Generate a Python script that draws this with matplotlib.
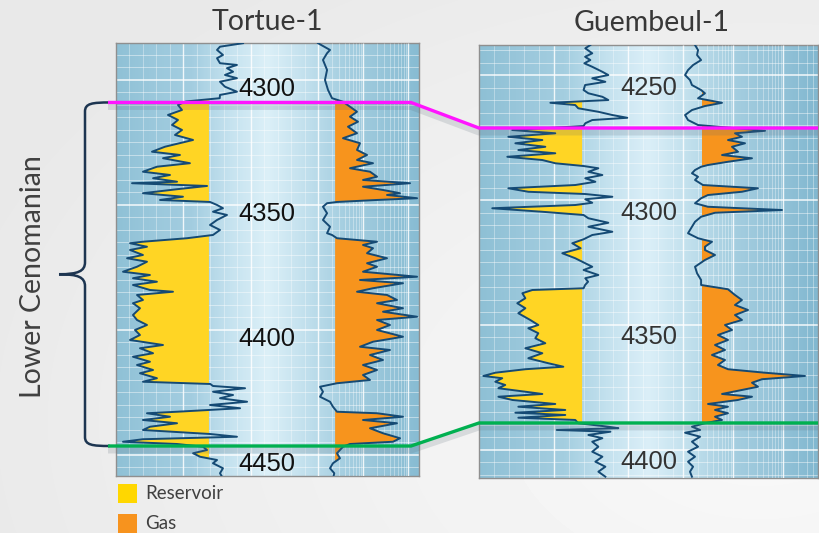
"""Tortue-1 / Guembeul-1 log correlation, Lower Cenomanian."""

import numpy as np
import matplotlib
matplotlib.use('Agg')
import matplotlib.pyplot as plt
from matplotlib import transforms
from matplotlib.colors import LinearSegmentedColormap
from matplotlib.patches import PathPatch, Rectangle
from matplotlib.path import Path

W, H = 819, 533

# ---- data (depth in m, GR in API, resistivity in ohm.m) ----
GR_CUT = 69.0
RES_CUT = 2.4

tortue_gr_depth = [
    4285.3, 4286.7, 4288.0, 4290.0, 4291.3, 4293.3, 4294.0, 4295.3, 4296.7, 4298.0,
    4299.3, 4300.7, 4302.7, 4304.7, 4306.0, 4307.3, 4308.6, 4310.0, 4312.0, 4314.0,
    4316.0, 4318.0, 4320.0, 4322.0, 4324.0, 4326.7, 4328.7, 4330.0, 4331.3, 4333.3,
    4334.7, 4336.7, 4338.0, 4339.3, 4340.7, 4341.3, 4342.4, 4343.7, 4345.3, 4346.7,
    4348.0, 4348.8, 4350.0, 4351.3, 4352.7, 4354.0, 4356.0, 4358.0, 4360.0, 4362.0,
    4363.3, 4364.7, 4365.3, 4366.7, 4368.0, 4370.0, 4371.3, 4372.7, 4374.7, 4376.7,
    4378.0, 4379.3, 4380.7, 4382.0, 4384.0, 4384.7, 4386.0, 4388.0, 4389.3, 4391.3,
    4394.0, 4396.0, 4398.0, 4400.0, 4402.0, 4404.0, 4406.0, 4407.3, 4409.3, 4410.7,
    4412.7, 4414.0, 4416.0, 4417.3, 4419.3, 4420.7, 4421.6, 4422.4, 4423.3, 4424.7,
    4426.0, 4427.3, 4428.7, 4430.0, 4431.3, 4432.7, 4433.3, 4434.7, 4436.0, 4437.3,
    4438.7, 4440.0, 4441.6, 4442.7, 4443.7, 4444.7, 4445.6, 4446.7, 4448.0, 4449.3,
    4450.7, 4452.0, 4453.3, 4455.3, 4457.3, 4459.3]
tortue_gr = [
    94.3, 77.2, 75.0, 79.4, 75.0, 77.2, 89.8, 82.4, 86.9, 80.9,
    89.8, 77.2, 80.9, 89.8, 77.2, 77.0, 52.0, 46.0, 49.0, 38.6,
    46.0, 41.6, 49.0, 43.8, 57.2, 36.4, 26.7, 47.5, 34.9, 54.9,
    30.4, 20.0, 40.1, 27.5, 45.3, 11.9, 67.6, 45.3, 20.0, 49.7,
    32.7, 69.8, 75.0, 79.4, 72.0, 82.4, 75.0, 69.8, 77.2, 72.0,
    52.7, 20.0, 10.4, 23.0, 10.4, 20.0, 8.2, 23.0, 15.6, 5.2,
    25.2, 12.6, 30.4, 12.6, 25.2, 42.3, 15.6, 20.0, 12.6, 17.8,
    12.6, 15.6, 23.0, 14.1, 17.8, 10.4, 34.9, 17.8, 27.5, 12.6,
    25.2, 15.6, 27.5, 17.8, 30.4, 20.0, 70.0, 72.0, 95.8, 72.0,
    86.9, 77.2, 97.3, 69.8, 92.1, 45.3, 23.0, 40.1, 20.0, 45.3,
    25.2, 20.0, 69.8, 89.8, 20.0, 5.2, 45.3, 64.6, 67.6, 57.2,
    62.4, 75.0, 72.0, 79.4, 77.2, 79.4]

tortue_res_depth = [
    4285.3, 4288.0, 4289.3, 4292.0, 4296.0, 4300.0, 4304.0, 4307.3, 4308.7, 4310.7,
    4312.7, 4314.7, 4316.7, 4318.7, 4321.3, 4323.3, 4325.3, 4328.0, 4330.0, 4332.0,
    4333.3, 4335.3, 4336.7, 4338.7, 4340.0, 4341.3, 4342.7, 4344.0, 4345.3, 4346.0,
    4347.3, 4348.0, 4348.8, 4349.3, 4350.7, 4353.3, 4356.0, 4358.7, 4361.3, 4362.0,
    4363.3, 4364.7, 4366.0, 4367.3, 4369.3, 4371.3, 4373.3, 4374.7, 4376.7, 4378.7,
    4380.0, 4381.3, 4383.3, 4384.7, 4386.0, 4388.0, 4389.3, 4391.3, 4392.7, 4394.7,
    4396.0, 4398.0, 4400.0, 4402.7, 4404.7, 4406.7, 4408.0, 4410.0, 4412.0, 4414.0,
    4416.0, 4418.0, 4420.0, 4421.3, 4422.7, 4424.7, 4426.7, 4428.7, 4430.7, 4432.7,
    4433.3, 4434.7, 4436.0, 4437.3, 4439.3, 4441.3, 4443.3, 4444.7, 4445.6, 4446.7,
    4448.0, 4449.3, 4451.3, 4453.3, 4455.3, 4457.3, 4459.3]
tortue_res = [
    1.00, 1.85, 1.59, 1.29, 1.59, 1.43, 1.67, 2.05, 3.59, 5.14,
    7.36, 5.14, 7.74, 4.64, 7.36, 3.59, 8.58, 7.36, 12.3, 7.36,
    16.7, 5.14, 14.3, 20.5, 10.0, 111, 10.0, 27.8, 66.6, 34.2,
    159, 20.5, 2.64, 1.59, 1.29, 1.59, 1.29, 1.85, 1.59, 2.05,
    2.64, 20.5, 10.0, 16.7, 12.3, 34.2, 12.3, 20.5, 10.0, 159,
    8.58, 77.4, 16.7, 7.36, 34.2, 57.0, 20.5, 77.4, 27.8, 159,
    20.5, 39.8, 20.5, 77.4, 16.7, 8.58, 39.8, 14.3, 27.8, 10.0,
    20.5, 10.0, 14.3, 2.64, 1.11, 1.29, 1.11, 1.85, 2.15, 2.64,
    20.5, 77.4, 10.0, 57.0, 14.3, 27.8, 66.6, 46.4, 5.14, 3.59,
    3.08, 2.64, 3.08, 2.15, 1.85, 2.30, 2.15]

guembeul_gr_depth = [
    4238.0, 4239.3, 4241.3, 4242.7, 4244.0, 4245.3, 4246.7, 4248.7, 4250.0, 4251.3,
    4252.7, 4254.0, 4256.0, 4257.3, 4258.7, 4260.0, 4261.1, 4262.0, 4263.3, 4264.7,
    4266.0, 4267.1, 4268.0, 4269.3, 4270.4, 4272.0, 4273.3, 4274.7, 4276.0, 4277.3,
    4278.7, 4280.0, 4281.3, 4282.7, 4284.0, 4285.3, 4286.4, 4287.3, 4288.7, 4290.0,
    4291.3, 4292.7, 4294.0, 4295.3, 4296.7, 4297.6, 4298.7, 4299.7, 4301.1, 4302.0,
    4303.3, 4304.7, 4306.0, 4307.3, 4309.1, 4310.7, 4312.7, 4314.0, 4315.7, 4317.3,
    4319.3, 4321.3, 4323.3, 4325.3, 4326.7, 4328.0, 4330.0, 4331.3, 4332.7, 4334.0,
    4335.3, 4336.0, 4337.3, 4339.3, 4341.3, 4343.3, 4345.3, 4348.0, 4350.0, 4351.3,
    4353.3, 4355.3, 4357.3, 4359.3, 4361.3, 4363.3, 4365.3, 4366.7, 4367.7, 4369.1,
    4370.4, 4371.3, 4372.7, 4374.0, 4375.3, 4376.7, 4377.6, 4378.7, 4380.0, 4381.6,
    4382.7, 4384.0, 4385.1, 4386.0, 4387.1, 4388.0, 4389.3, 4390.7, 4391.3, 4392.0,
    4392.7, 4394.0, 4395.3, 4396.7, 4398.7, 4400.7, 4402.7, 4404.7, 4406.7, 4408.7,
    4410.7]
guembeul_gr = [
    74.5, 71.1, 75.8, 71.0, 74.5, 70.5, 75.8, 82.6, 86.6, 75.8,
    84.6, 71.0, 70.0, 73.2, 82.6, 86.6, 47.7, 64.4, 66.4, 79.9,
    89.3, 99.3, 75.8, 71.1, 70.0, 22.1, 51.0, 19.5, 42.3, 24.2,
    44.3, 26.2, 51.0, 18.8, 42.3, 51.0, 70.0, 79.9, 73.2, 82.6,
    71.1, 77.9, 64.4, 19.5, 32.9, 71.1, 89.3, 71.1, 75.8, 64.4,
    8.7, 42.3, 70.0, 73.2, 86.6, 73.2, 89.3, 75.8, 70.0, 62.4,
    68.0, 55.7, 64.4, 71.1, 75.8, 70.0, 79.9, 71.1, 73.0, 71.0,
    70.0, 35.6, 28.9, 30.9, 25.5, 30.9, 26.2, 34.2, 39.6, 32.9,
    39.6, 37.6, 44.3, 30.9, 42.3, 32.9, 46.3, 56.4, 30.9, 10.7,
    2.7, 15.4, 10.7, 17.4, 12.8, 30.9, 42.3, 12.8, 22.1, 51.0,
    26.2, 57.7, 24.2, 57.7, 26.2, 64.4, 66.4, 86.6, 93.3, 52.0,
    88.0, 73.2, 82.6, 75.8, 79.9, 75.8, 82.6, 77.9, 84.6, 79.9,
    84.6]

guembeul_res_depth = [
    4238.0, 4240.0, 4242.0, 4244.0, 4246.0, 4248.0, 4250.0, 4252.0, 4254.0, 4256.0,
    4257.3, 4259.3, 4261.1, 4262.4, 4264.0, 4266.0, 4268.0, 4270.0, 4272.3, 4273.3,
    4274.7, 4276.0, 4277.3, 4278.7, 4280.7, 4282.0, 4283.3, 4284.7, 4286.0, 4286.7,
    4288.0, 4289.3, 4290.7, 4292.0, 4294.0, 4295.3, 4296.7, 4298.0, 4299.3, 4301.3,
    4302.7, 4304.0, 4305.1, 4306.7, 4308.7, 4310.7, 4313.3, 4315.3, 4316.7, 4318.7,
    4320.0, 4322.0, 4324.0, 4326.7, 4329.3, 4332.0, 4334.0, 4335.7, 4338.0, 4340.0,
    4342.0, 4344.0, 4346.0, 4348.0, 4350.0, 4352.0, 4354.0, 4356.0, 4358.0, 4360.0,
    4362.0, 4364.0, 4366.0, 4367.7, 4369.1, 4370.4, 4371.7, 4373.1, 4374.7, 4376.0,
    4377.6, 4378.7, 4380.0, 4381.6, 4382.7, 4384.0, 4385.3, 4386.7, 4388.0, 4389.3,
    4390.7, 4392.0, 4393.1, 4394.7, 4396.7, 4398.7, 4400.7, 4402.7, 4404.7, 4406.7,
    4408.7, 4410.7]
guembeul_res = [
    1.74, 2.00, 1.91, 2.30, 1.59, 1.26, 1.10, 1.38, 1.51, 2.30,
    2.75, 2.00, 6.03, 2.75, 1.51, 1.10, 1.26, 2.00, 43.7, 10.96,
    15.1, 7.94, 17.4, 9.55, 12.6, 6.03, 24.0, 7.94, 3.16, 2.30,
    1.74, 1.51, 2.00, 1.74, 2.50, 31.6, 15.1, 3.16, 2.30, 1.74,
    3.16, 95.5, 4.37, 2.30, 1.74, 1.51, 1.26, 2.00, 3.80, 2.75,
    2.75, 4.37, 2.75, 1.74, 1.91, 2.30, 2.30, 7.94, 10.96, 15.1,
    10.96, 19.95, 10.96, 15.1, 6.92, 9.55, 5.01, 7.94, 4.37, 6.92,
    3.80, 6.92, 5.01, 7.94, 43.7, 275, 38.0, 24.0, 31.6, 15.1,
    6.03, 24.0, 12.6, 3.16, 7.94, 4.37, 7.94, 4.37, 6.03, 2.75,
    1.51, 2.20, 1.10, 2.20, 1.51, 2.00, 1.26, 1.74, 1.26, 1.59,
    1.38, 1.51]

tortue_labels = [4300, 4350, 4400, 4450]
guembeul_labels = [4250, 4300, 4350, 4400]

# Lower Cenomanian top / base picks (m)
tortue_picks = [4309.0, 4446.4]
guembeul_picks = [4271.2, 4389.2]

legend_labels = ['Reservoir', 'Gas']

# ---- styling ----
CURVE = '#154a74'
YELLOW = '#ffd524'
ORANGE = '#f7941d'
PINK = '#ff14ff'
GREEN = '#00b050'
TEXT = ['Lato', 'DejaVu Sans']
DIGITS = ['Liberation Sans', 'DejaVu Sans']


def px_rect(x0, y0, x1, y1):
    return [x0 / W, 1 - y1 / H, (x1 - x0) / W, (y1 - y0) / H]


def draw_well(fig, box, dtop, dbot, gr_px, res_x0, res_dec, stops,
              gr_d, gr, res_d, res, labels, label_off, label_color):
    x0, y0, x1, y1 = box
    gr_max = (x1 - x0) / gr_px
    ax = fig.add_axes(px_rect(*box))
    cmap = LinearSegmentedColormap.from_list('bg', stops)
    ax.imshow(np.linspace(0, 1, 400)[None, :], cmap=cmap, aspect='auto',
              extent=[0, gr_max, dbot, dtop], zorder=0, interpolation='bilinear')
    ax.set_xlim(0, gr_max)
    ax.set_ylim(dbot, dtop)
    ax.set_xticks([])
    ax.set_yticks([])
    for s in ax.spines.values():
        s.set_color('#8f8f8f')
        s.set_linewidth(1.0)

    # depth grid
    depths = np.arange(np.ceil(dtop / 5) * 5, dbot, 5)
    ax.hlines(depths[depths % 50 != 0], 0, gr_max, colors='white',
              lw=0.7, alpha=0.45, zorder=1)
    ax.hlines(depths[depths % 50 == 0], 0, gr_max, colors='white',
              lw=1.1, alpha=0.9, zorder=1)

    # GR linear grid
    gr_lim = (res_x0 - x0) / gr_px
    g = np.arange(10, gr_lim, 10)
    ax.vlines(g[g % 50 != 0], dtop, dbot, colors='white', lw=0.6, alpha=0.4, zorder=1)
    ax.vlines(g[g % 50 == 0], dtop, dbot, colors='white', lw=1.0, alpha=0.85, zorder=1)

    # resistivity log track on a twin axis
    rx = ax.twiny()
    rx.set_xscale('log')
    rx.set_xlim(10 ** (-(res_x0 - x0) / res_dec), 10 ** ((x1 - res_x0) / res_dec))
    rx.set_ylim(dbot, dtop)
    rx.axis('off')
    rmax = rx.get_xlim()[1]
    for dec in [1, 10, 100, 1000]:
        if dec < rmax:
            rx.vlines(dec, dtop, dbot, colors='white', lw=1.0, alpha=0.85, zorder=1)
        mins = [dec * m for m in range(2, 10) if dec * m < rmax]
        if mins:
            rx.vlines(mins, dtop, dbot, colors='white', lw=0.6, alpha=0.4, zorder=1)

    gr = np.array(gr)
    res = np.array(res)
    ax.fill_betweenx(gr_d, gr, GR_CUT, where=gr < GR_CUT, interpolate=True,
                     color=YELLOW, lw=0, zorder=3)
    ax.plot(gr, gr_d, color=CURVE, lw=1.4, zorder=4)
    rx.fill_betweenx(res_d, RES_CUT, res, where=res > RES_CUT, interpolate=True,
                     color=ORANGE, lw=0, zorder=3)
    rx.plot(res, res_d, color=CURVE, lw=1.4, zorder=4)

    tr = transforms.blended_transform_factory(rx.transAxes, rx.transData)
    for lab in labels:
        rx.text(0.5, lab + label_off, str(lab), transform=tr, ha='center',
                va='center', fontsize=18.4, color=label_color, family=DIGITS,
                zorder=6)
    return ax


def main():
    fig = plt.figure(figsize=(W / 100, H / 100), dpi=100)

    # page background: pale grey, whiter towards the lower right
    bg = fig.add_axes([0, 0, 1, 1], zorder=-10)
    yy, xx = np.mgrid[0:H, 0:W]
    r = np.hypot((xx - 760) / W, (yy - 420) / H)
    bg.imshow(249 - 16 * np.clip(r / 1.0, 0, 1), cmap='gray', vmin=0, vmax=255,
              aspect='auto', extent=[0, W, H, 0])
    bg.axis('off')

    t_stops = ['#8fc1d6', '#9bc8dc', '#a3cde0', '#c5e2ef', '#dcf0f8',
               '#c2e0ed', '#a6cfe1', '#98c6da', '#88bcd3']
    g_stops = ['#8ec0d5', '#9ac7db', '#a4cee0', '#c3e1ee', '#dbeff8',
               '#c0dfec', '#a5cee0', '#96c4d9', '#82b8d0']

    ax_t = draw_well(fig, (116, 42.7, 418.7, 476.0), 4285.1, 4458.4, 1.347,
                     318, 45, t_stops, tortue_gr_depth, tortue_gr,
                     tortue_res_depth, tortue_res, tortue_labels, 3.6, '#111111')
    ax_g = draw_well(fig, (479.3, 45.3, 817.7, 477.7), 4238.1, 4411.1, 1.49,
                     683, 50, g_stops, guembeul_gr_depth, guembeul_gr,
                     guembeul_res_depth, guembeul_res, guembeul_labels, 5.0,
                     '#333333')

    ov = fig.add_axes([0, 0, 1, 1], zorder=10)
    ov.set_xlim(0, W)
    ov.set_ylim(H, 0)
    ov.axis('off')
    ov.patch.set_alpha(0)

    def ypix(ax, d):
        return H - ax.transData.transform((0, d))[1]

    for i, color in enumerate([PINK, GREEN]):
        yt = ypix(ax_t, tortue_picks[i])
        yg = ypix(ax_g, guembeul_picks[i])
        xs = [108, 411, 479, 818]
        ys = [yt, yt, yg, yg]
        ov.plot(xs, [y + 4 for y in ys], color='#5a6a78', lw=5, alpha=0.18,
                solid_capstyle='butt')
        ov.plot(xs, ys, color=color, lw=2.4, solid_capstyle='butt',
                solid_joinstyle='miter')

    # brace
    y_top = ypix(ax_t, tortue_picks[0])
    y_bot = ypix(ax_t, tortue_picks[1])
    ym = (y_top + y_bot) / 2
    verts = [(110, y_top), (92, y_top), (85, y_top + 1), (85, y_top + 9),
             (85, ym - 12),
             (85, ym - 3), (78, ym), (59, ym),
             (78, ym), (85, ym + 3), (85, ym + 12),
             (85, y_bot - 9),
             (85, y_bot - 1), (92, y_bot), (110, y_bot)]
    codes = [Path.MOVETO, Path.CURVE4, Path.CURVE4, Path.CURVE4,
             Path.LINETO,
             Path.CURVE4, Path.CURVE4, Path.CURVE4,
             Path.CURVE4, Path.CURVE4, Path.CURVE4,
             Path.LINETO,
             Path.CURVE4, Path.CURVE4, Path.CURVE4]
    ov.add_patch(PathPatch(Path(verts, codes), fill=False, ec='#1d3551', lw=1.8))
    ov.text(33, ym + 2, 'Lower Cenomanian', rotation=90, ha='center', va='center',
            fontsize=20.5, color='#404040', family=TEXT)

    ov.text(267, 30, 'Tortue-1', ha='center', va='baseline', fontsize=20.5,
            color='#383838', family=TEXT)
    ov.text(652, 31, 'Guembeul-1', ha='center', va='baseline', fontsize=20.5,
            color='#383838', family=TEXT)

    for i, (lab, col) in enumerate(zip(legend_labels, ['#ffd700', '#f7931e'])):
        y = 484 + 30 * i
        ov.add_patch(Rectangle((118, y), 19, 19, color=col, lw=0))
        ov.text(145, y + 9.5, lab, ha='left', va='center', fontsize=13.5,
                color='#404040', family=TEXT)

    fig.savefig('out.png', dpi=100)


if __name__ == '__main__':
    main()
